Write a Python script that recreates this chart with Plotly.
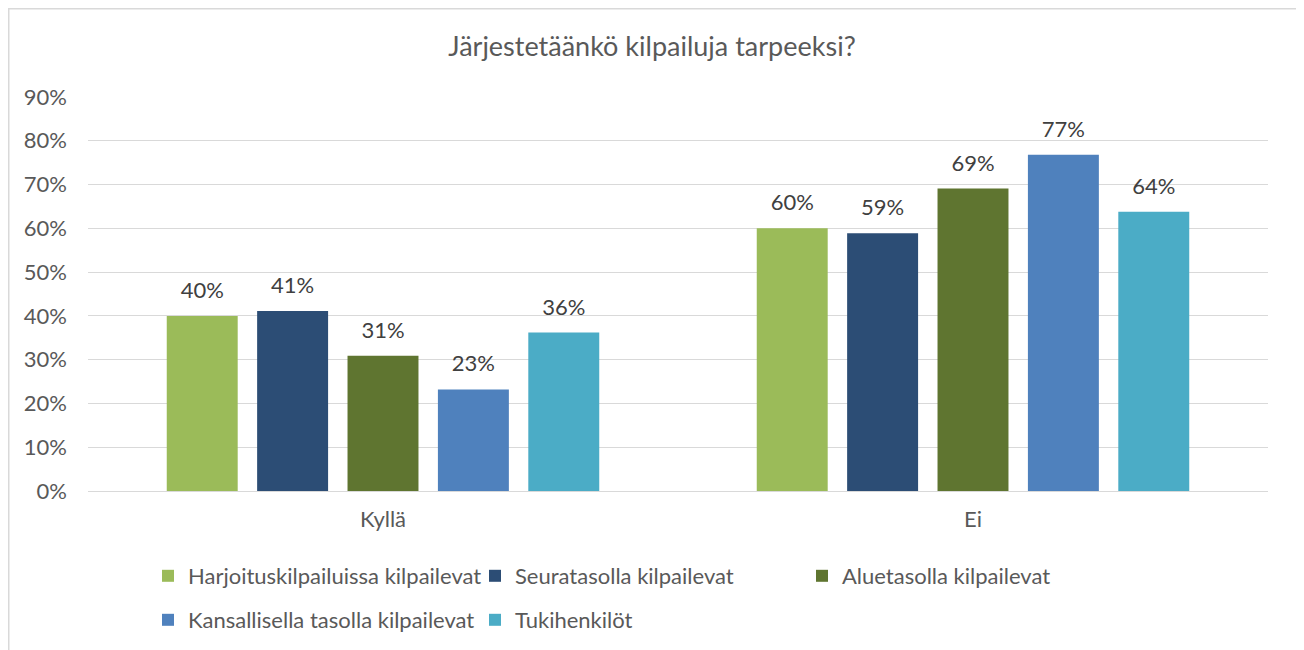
import plotly.graph_objects as go

categories = ["Kyllä", "Ei"]
series_names = [
    "Harjoituskilpailuissa kilpailevat",
    "Seuratasolla kilpailevat",
    "Aluetasolla kilpailevat",
    "Kansallisella tasolla kilpailevat",
    "Tukihenkilöt",
]
values_harjoitus = [40.0, 60.0]
values_seura = [41.1, 58.9]
values_alue = [30.9, 69.1]
values_kansallinen = [23.2, 76.8]
values_tuki = [36.2, 63.8]
all_values = [values_harjoitus, values_seura, values_alue, values_kansallinen, values_tuki]
colors = ["#9BBB59", "#2C4D75", "#5F7530", "#4F81BD", "#4BACC6"]
legend_ids = ["legend", "legend", "legend", "legend2", "legend2"]
y_ticks = list(range(0, 91, 10))
y_tick_labels = [f"{v}%" for v in y_ticks]

FONT = "Lato, Open Sans, sans-serif"
OFF = 8  # page body margin
W, H = 1304 - OFF, 650 - OFF
L = 88 - OFF
T = 97 - OFF
R = W - (1268 - OFF)
B = H - (491 - OFF)
pw = W - L - R
ph = H - T - B


def px_x(page_x):
    return (page_x - OFF - L) / pw


def px_y(page_y):
    return (H - B - (page_y - OFF)) / ph


fig = go.Figure()
for name, vals, col, lg in zip(series_names, all_values, colors, legend_ids):
    fig.add_trace(go.Bar(
        x=categories, y=vals, name=name,
        marker=dict(color=col, line=dict(width=0)),
        texttemplate="<span style='font-size:22px'>%{y:.0f}%</span><br><span style='color:rgba(0,0,0,0)'>.</span>",
        textposition="outside",
        textfont=dict(family=FONT, size=10, color="#404040"),
        constraintext="none",
        cliponaxis=False,
        legend=lg,
        hoverinfo="skip",
    ))

fig.add_shape(type="rect", xref="paper", yref="paper",
              x0=px_x(OFF + 0.75), x1=px_x(1297.5),
              y0=px_y(700), y1=px_y(OFF + 0.75),
              line=dict(color="#d9d9d9", width=1.5), fillcolor="rgba(0,0,0,0)", layer="below")

legend_common = dict(orientation="h", xref="container", yref="container",
                     xanchor="left", yanchor="middle",
                     entrywidth=282, entrywidthmode="pixels", itemwidth=30,
                     font=dict(family=FONT, size=22, color="#595959"),
                     bgcolor="rgba(0,0,0,0)", borderwidth=0, traceorder="normal")

fig.update_layout(
    width=W, height=H,
    margin=dict(l=L, r=R, t=T, b=B, autoexpand=False),
    paper_bgcolor="white", plot_bgcolor="white",
    font=dict(family=FONT, color="#595959", size=22),
    title=dict(text="Järjestetäänkö kilpailuja tarpeeksi?", x=(652 - OFF) / W, xref="container",
               y=1 - (47 - OFF) / H, yref="container", yanchor="middle", xanchor="center",
               font=dict(family=FONT, size=27, color="#595959")),
    barmode="group", bargap=0.234, bargroupgap=0.215,
    xaxis=dict(showgrid=False, showline=False, ticks="", ticklabelstandoff=13,
               tickfont=dict(family=FONT, size=22, color="#595959"), fixedrange=True),
    yaxis=dict(range=[0, 90], tickmode="array", tickvals=y_ticks, ticktext=y_tick_labels,
               showgrid=True, gridcolor="#d9d9d9", gridwidth=1, zeroline=True,
               zerolinecolor="#d9d9d9", zerolinewidth=1, showline=False, ticks="",
               ticklabelstandoff=20,
               tickfont=dict(family=FONT, size=22, color="#595959"), fixedrange=True),
    legend=dict(legend_common, x=(148 - OFF) / W, y=1 - (576 - OFF) / H),
    legend2=dict(legend_common, x=(148 - OFF) / W, y=1 - (620 - OFF) / H),
    showlegend=True,
)

fig.write_html("out.html")
